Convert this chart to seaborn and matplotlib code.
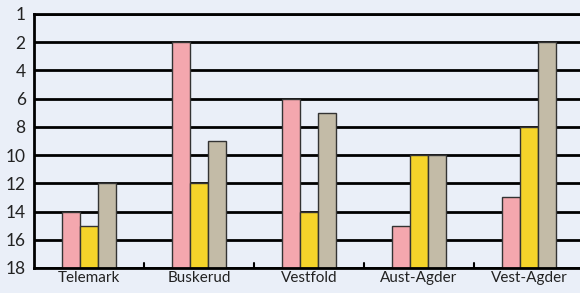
import pandas as pd
import matplotlib
matplotlib.use('Agg')
import matplotlib.pyplot as plt
import seaborn as sns

# Data: rank (1 = best) per county, three series
fylker = ['Telemark', 'Buskerud', 'Vestfold', 'Aust-Agder', 'Vest-Agder']
serie_a = [14, 2, 6, 15, 13]
serie_b = [15, 12, 14, 10, 8]
serie_c = [12, 9, 7, 10, 2]
serier = ['A', 'B', 'C']
farger = ['#F4A7AE', '#F5D42A', '#C3BBA7']
ytick_labels = ['18', '16', '14', '12', '10', '8', '6', '4', '2', '1']

rows = []
for navn, verdier in zip(serier, [serie_a, serie_b, serie_c]):
    for f, v in zip(fylker, verdier):
        rows.append({'fylke': f, 'serie': navn, 'rang': v})
df = pd.DataFrame(rows)
# bars grow up from rank 18; the top tick is rank 1 but sits one step above 2
df['hoyde'] = df['rang'].apply(lambda r: 18 - r if r >= 2 else 18)

sns.set_style('white')
plt.rcParams['font.family'] = ['Lato', 'DejaVu Sans']
bg = '#EAEFF8'

fig = plt.figure(figsize=(5.8, 2.93), dpi=100, facecolor=bg)
ax = fig.add_axes([34 / 580, 25 / 293, 550 / 580, 254 / 293])
ax.set_facecolor(bg)

# horizontal grid lines
for y in range(0, 19, 2):
    ax.axhline(y, color='black', lw=2, zorder=0)

sns.barplot(data=df, x='fylke', y='hoyde', hue='serie', palette=farger,
            width=0.49, gap=0, edgecolor='#333333', linewidth=1,
            saturation=1, legend=False, ax=ax, zorder=2)

ax.set_ylim(0, 18)
ax.set_xlim(-0.5, 4.5)
ax.set_yticks(range(0, 19, 2))
ax.set_yticklabels(ytick_labels, fontsize=12.5, color='#222222')
ax.set_xticks(range(5))
ax.set_xticklabels(fylker, fontsize=11, color='#222222')
ax.tick_params(axis='y', length=0, pad=6)
ax.tick_params(axis='x', length=0, pad=2)
ax.set_xlabel('')
ax.set_ylabel('')

# small ticks between groups
for x in [0.5, 1.5, 2.5, 3.5]:
    ax.plot([x, x], [0, 0.35], color='black', lw=1.5, zorder=3)

for s in ['left', 'bottom', 'top']:
    ax.spines[s].set_color('black')
    ax.spines[s].set_linewidth(2)
ax.spines['right'].set_visible(False)

fig.savefig('out.png', dpi=100, facecolor=bg)
